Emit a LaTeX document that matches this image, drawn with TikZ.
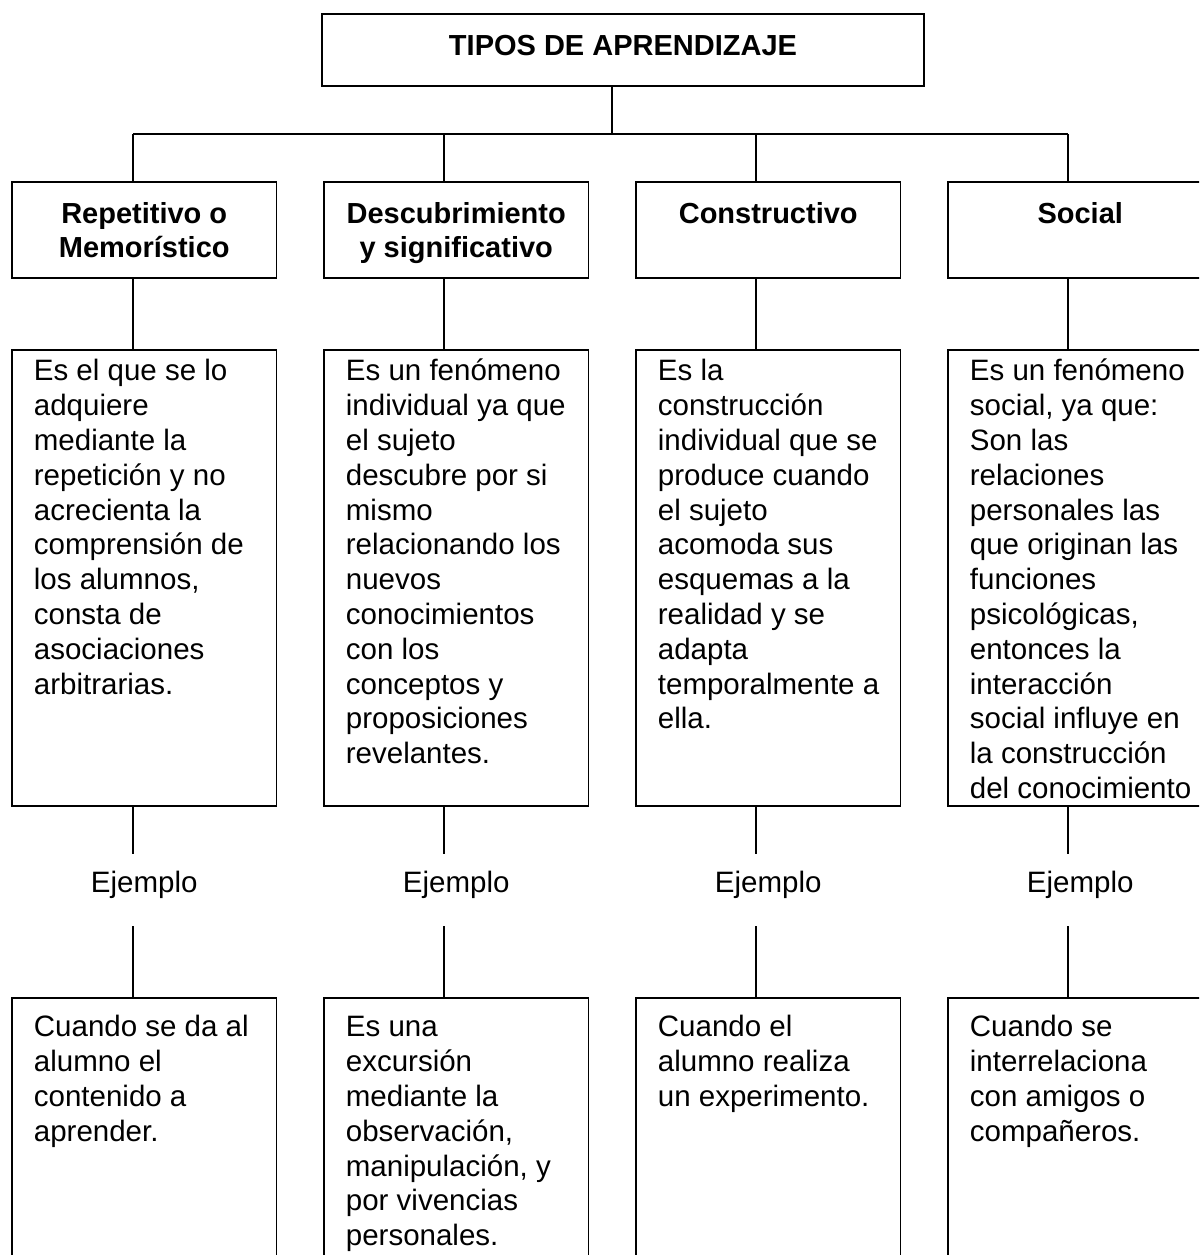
\documentclass[tikz,border=0pt]{standalone}
\usepackage{fontspec}
\setmainfont{Liberation Sans}
\newcommand{\fstrut}{\rule{0pt}{24pt}}
\begin{document}
\begin{tikzpicture}[x=1pt,y=-1pt, line width=1.8pt,
  boxst/.style={draw, rectangle, inner sep=0pt, outer sep=0pt, minimum width=264.5pt, anchor=north west},
  headst/.style={boxst, minimum height=96pt},
  descst/.style={boxst, minimum height=456pt},
  exst/.style={boxst, minimum height=330pt},
  bodytxt/.style={anchor=north west, inner sep=0pt, align=left, font=\fontsize{29.5}{34.8}\selectfont},
  headtxt/.style={anchor=north, inner sep=0pt, align=center, font=\fontsize{29}{34}\selectfont\bfseries},
  titletxt/.style={anchor=north, inner sep=0pt, align=center, font=\fontsize{29}{34}\selectfont\bfseries},
  ejst/.style={inner sep=0pt, outer sep=0pt, minimum height=72pt, text height=21.5pt, text depth=16pt, font=\fontsize{29.5}{34.8}\selectfont},
]
\useasboundingbox (0,0) rectangle (1199,1255);
\fill[white] (0,0) rectangle (1199,1255);
\clip (0,0) rectangle (1199,1255);

% title
\node[draw, rectangle, inner sep=0pt, outer sep=0pt, minimum width=602pt, minimum height=72pt, anchor=north west] (title) at (322,14) {};
\node[titletxt] (titlet) at (623,31) {\fstrut TIPOS DE APRENDIZAJE};

% bus coordinates
\coordinate (hub) at (612,134);
\coordinate (bus1) at (133,134);
\coordinate (bus2) at (444,134);
\coordinate (bus3) at (756,134);
\coordinate (bus4) at (1068,134);

% headers
\node[headst] (h1) at (12,182) {};
\node[headst] (h2) at (324,182) {};
\node[headst] (h3) at (636,182) {};
\node[headst] (h4) at (948,182) {};
\node[headtxt] (h1t) at (144.25,199) {\fstrut Repetitivo o\\Memorístico};
\node[headtxt] (h2t) at (456.25,199) {\fstrut Descubrimiento\\y significativo};
\node[headtxt] (h3t) at (768.25,199) {\fstrut Constructivo};
\node[headtxt] (h4t) at (1080.25,199) {\fstrut Social};

% descriptions
\node[descst] (d1) at (12,350) {};
\node[descst] (d2) at (324,350) {};
\node[descst] (d3) at (636,350) {};
\node[descst] (d4) at (948,350) {};
\node[bodytxt] (d1t) at (33,356) {\fstrut Es el que se lo\\adquiere\\mediante la\\repetición y no\\acrecienta la\\comprensión de\\los alumnos,\\consta de\\asociaciones\\arbitrarias.};
\node[bodytxt] (d2t) at (345,356) {\fstrut Es un fenómeno\\individual ya que\\el sujeto\\descubre por si\\mismo\\relacionando los\\nuevos\\conocimientos\\con los\\conceptos y\\proposiciones\\revelantes.};
\node[bodytxt] (d3t) at (657,356) {\fstrut Es la\\construcción\\individual que se\\produce cuando\\el sujeto\\acomoda sus\\esquemas a la\\realidad y se\\adapta\\temporalmente a\\ella.};
\node[bodytxt] (d4t) at (969,356) {\fstrut Es un fenómeno\\social, ya que:\\Son las\\relaciones\\personales las\\que originan las\\funciones\\psicológicas,\\entonces la\\interacción\\social influye en\\la construcción\\del conocimiento};

% Ejemplo labels
\node[ejst] (e1) at (144.25,890) {Ejemplo};
\node[ejst] (e2) at (456.25,890) {Ejemplo};
\node[ejst] (e3) at (768.25,890) {Ejemplo};
\node[ejst] (e4) at (1080.25,890) {Ejemplo};

% examples
\node[exst] (b1) at (12,998) {};
\node[exst] (b2) at (324,998) {};
\node[exst] (b3) at (636,998) {};
\node[exst] (b4) at (948,998) {};
\node[bodytxt] (b1t) at (33,1012) {\fstrut Cuando se da al\\alumno el\\contenido a\\aprender.};
\node[bodytxt] (b2t) at (345,1012) {\fstrut Es una\\excursión\\mediante la\\observación,\\manipulación, y\\por vivencias\\personales.};
\node[bodytxt] (b3t) at (657,1012) {\fstrut Cuando el\\alumno realiza\\un experimento.};
\node[bodytxt] (b4t) at (969,1012) {\fstrut Cuando se\\interrelaciona\\con amigos o\\compañeros.};

% connectors
\draw (title.south -| hub) -- (hub);
\draw (bus1) -- (bus4);
\foreach \i in {1,2,3,4}{
  \draw (bus\i) -- (h\i.north -| bus\i);
  \draw (h\i.south -| bus\i) -- (d\i.north -| bus\i);
  \draw (d\i.south -| bus\i) -- (e\i.north -| bus\i);
  \draw (e\i.south -| bus\i) -- (b\i.north -| bus\i);
}
\end{tikzpicture}
\end{document}
